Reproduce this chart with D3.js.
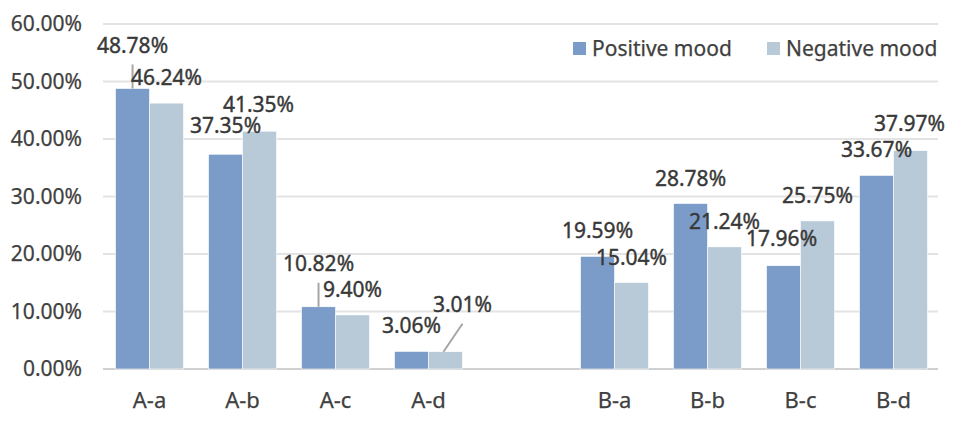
<!DOCTYPE html>
<html><head><meta charset="utf-8">
<script src="https://cdn.jsdelivr.net/npm/d3@7"></script>
<style>
html,body{margin:0;padding:0;background:#fff;}
text{font-family:"Noto Sans",sans-serif;}
</style></head>
<body><svg id="c" width="957" height="422"></svg>
<script>
// ---- data ----
const categories = ["A-a","A-b","A-c","A-d","","B-a","B-b","B-c","B-d"];
const seriesNames = ["Positive mood","Negative mood"];
const positive = [48.78, 37.35, 10.82, 3.06, null, 19.59, 28.78, 17.96, 33.67];
const negative = [46.24, 41.35, 9.40, 3.01, null, 15.04, 21.24, 25.75, 37.97];
const yTicks = [0, 10, 20, 30, 40, 50, 60];

// ---- layout (label shifts in px: [dx, dy] of label baseline relative to bar top) ----
const defaultShift = [0, -18];
const labelShift = {
  "0-0": [0, -36, true],   // A-a positive with leader line
  "0-1": [0, -21],
  "0-2": [0, -36, true],   // A-c positive with leader
  "0-7": [-2, -20],
  "1-1": [-1, -19.5],
  "1-3": [17, -40, true],  // A-d negative with leader
  "1-8": [-1, -20]
};
const colors = ["#7B9CC8", "#B8C9D7"];

const svg = d3.select("#c");
const mLeft = 103, mRight = 940, mTop = 24, mBottom = 369;

const x = d3.scaleBand().domain(categories.map((c,i)=>i)).range([mLeft, mRight]).paddingInner(0.27).paddingOuter(0.135);
const xs = d3.scaleBand().domain([0,1]).range([0, x.bandwidth()]);
const y = d3.scaleLinear().domain([0, 60]).range([mBottom, mTop]);

// gridlines
svg.append("g").selectAll("line").data(yTicks).join("line")
  .attr("x1", mLeft).attr("x2", mRight - 2)
  .attr("y1", d => y(d)).attr("y2", d => y(d))
  .attr("stroke", d => d === 0 ? "#D0D0D0" : "#E3E3E3")
  .attr("stroke-width", 2);

// y tick labels
svg.append("g").selectAll("text").data(yTicks).join("text")
  .attr("x", 82).attr("y", d => y(d)).attr("dy", "0.35em")
  .attr("text-anchor", "end").attr("font-size", 21).attr("fill", "#404040")
  .attr("stroke", "#404040").attr("stroke-width", 0.25)
  .text(d => d.toFixed(2) + "%");

// x labels
svg.append("g").selectAll("text").data(categories).join("text")
  .attr("x", (d,i) => x(i) + x.bandwidth()/2).attr("y", 408)
  .attr("text-anchor", "middle").attr("font-size", 22).attr("fill", "#404040")
  .attr("stroke", "#404040").attr("stroke-width", 0.25)
  .text(d => d);

const series = [positive, negative];
const bars = [];
series.forEach((vals, s) => vals.forEach((v, i) => { if (v != null) bars.push({s, i, v}); }));

svg.append("g").selectAll("rect").data(bars).join("rect")
  .attr("x", d => x(d.i) + xs(d.s)).attr("width", xs.bandwidth())
  .attr("y", d => y(d.v)).attr("height", d => y(0) - y(d.v))
  .attr("fill", d => colors[d.s])
  .attr("stroke", "#fff").attr("stroke-width", 0.6);

// labels + leader lines
const lab = svg.append("g");
bars.forEach(d => {
  const sh = labelShift[d.s + "-" + d.i] || defaultShift;
  const cx = x(d.i) + xs(d.s) + xs.bandwidth()/2;
  const ty = y(d.v);
  const lx = cx + sh[0], ly = ty + sh[1];
  if (sh[2]) {
    lab.append("line").attr("x1", lx).attr("y1", ly + 12).attr("x2", cx - (sh[0] ? 2 : 0)).attr("y2", ty)
      .attr("stroke", "#A6A6A6").attr("stroke-width", 2);
  }
  lab.append("text").attr("x", lx).attr("y", ly).attr("text-anchor", "middle")
    .attr("font-size", 21).attr("fill", "#383838")
    .attr("stroke", "#383838").attr("stroke-width", 0.4)
    .text(d.v.toFixed(2) + "%");
});

// legend
const leg = svg.append("g");
const legX = [573, 767];
seriesNames.forEach((n, s) => {
  leg.append("rect").attr("x", legX[s]).attr("y", 42).attr("width", 13).attr("height", 13).attr("fill", colors[s]);
  leg.append("text").attr("x", legX[s] + 19).attr("y", 55.5).attr("font-size", 21).attr("fill", "#404040")
    .attr("stroke", "#404040").attr("stroke-width", 0.25).text(n);
});
</script></body></html>
